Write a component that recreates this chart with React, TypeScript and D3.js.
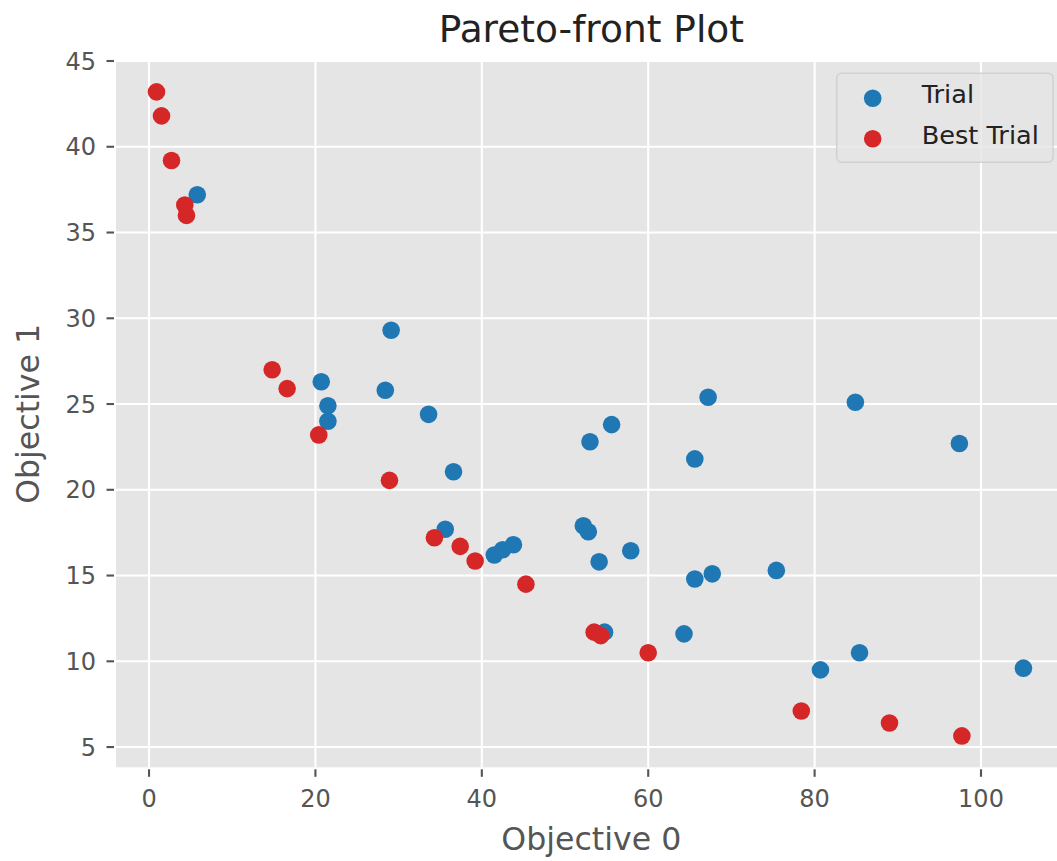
import React from 'react';
import * as d3 from 'd3';

// Trials (blue)
const trialX = [5.8, 20.7, 21.5, 21.5, 29.1, 28.4, 33.6, 36.6, 35.6, 41.5, 42.5, 43.8, 53.0, 55.6, 65.6, 67.2, 52.2, 52.8, 54.1, 57.9, 65.6, 67.7, 54.75, 64.3, 84.9, 97.4, 75.4, 80.7, 85.4, 105.1];
const trialY = [37.2, 26.3, 24.9, 24.0, 29.3, 25.8, 24.4, 21.05, 17.7, 16.2, 16.5, 16.8, 22.8, 23.8, 21.8, 25.4, 17.9, 17.55, 15.8, 16.45, 14.8, 15.1, 11.7, 11.6, 25.1, 22.7, 15.3, 9.5, 10.5, 9.6];

// Best trials (red, Pareto front)
const bestX = [0.9, 1.5, 2.7, 4.3, 4.5, 14.8, 16.6, 20.4, 28.9, 34.3, 37.4, 39.2, 45.3, 53.5, 54.3, 60.0, 78.4, 89.0, 97.7];
const bestY = [43.2, 41.8, 39.2, 36.6, 36.0, 27.0, 25.9, 23.2, 20.55, 17.2, 16.7, 15.85, 14.5, 11.7, 11.5, 10.5, 7.1, 6.4, 5.65];

const xTicks = [0, 20, 40, 60, 80, 100];
const yTicks = [5, 10, 15, 20, 25, 30, 35, 40, 45];

const W = 1057;
const H = 861;
const left = 116;
const right = 1066.7;
const top = 60.5;
const bottom = 767.3;

const FONT = '"DejaVu Sans", sans-serif';
const BLUE = '#1f77b4';
const RED = '#d62728';

export default function App() {
  const x = d3.scaleLinear().domain([-3.97, 110.3]).range([left, right]);
  const y = d3.scaleLinear().domain([3.82, 45.03]).range([bottom, top]);

  const trials = trialX.map((v, i) => [v, trialY[i]]);
  const best = bestX.map((v, i) => [v, bestY[i]]);

  return (
    <svg
      width={W}
      height={H}
      style={{ position: 'absolute', left: 0, top: 0, display: 'block', background: '#fff' }}
      fontFamily={FONT}
    >
      <defs>
        <clipPath id="plot">
          <rect x={left} y={top} width={right - left} height={bottom - top} />
        </clipPath>
      </defs>

      {/* axes background */}
      <rect x={left} y={top} width={right - left} height={bottom - top} fill="#e5e5e5" />

      {/* grid */}
      <g stroke="#fff" strokeWidth={2.1}>
        {xTicks.map(t => (
          <line key={'gx' + t} x1={x(t)} x2={x(t)} y1={top} y2={bottom} />
        ))}
        {yTicks.map(t => (
          <line key={'gy' + t} x1={left} x2={right} y1={y(t)} y2={y(t)} />
        ))}
      </g>

      {/* ticks */}
      <g stroke="#555" strokeWidth={2.1}>
        {xTicks.map(t => (
          <line key={'tx' + t} x1={x(t)} x2={x(t)} y1={bottom + 2} y2={bottom + 9.5} />
        ))}
        {yTicks.map(t => (
          <line key={'ty' + t} x1={left - 9.5} x2={left - 2} y1={y(t)} y2={y(t)} />
        ))}
      </g>

      {/* tick labels */}
      <g fill="#555" fontSize={24}>
        {xTicks.map(t => (
          <text key={'lx' + t} x={x(t)} y={807} textAnchor="middle">
            {t}
          </text>
        ))}
        {yTicks.map(t => (
          <text key={'ly' + t} x={96} y={y(t)} dy="0.36em" textAnchor="end">
            {t}
          </text>
        ))}
      </g>

      {/* points */}
      <g clipPath="url(#plot)">
        {trials.map((d, i) => (
          <circle key={'t' + i} cx={x(d[0])} cy={y(d[1])} r={8.8} fill={BLUE} />
        ))}
        {best.map((d, i) => (
          <circle key={'b' + i} cx={x(d[0])} cy={y(d[1])} r={8.8} fill={RED} />
        ))}
      </g>

      {/* legend */}
      <g>
        <rect
          x={836.7}
          y={73.3}
          width={216.3}
          height={89}
          rx={5}
          fill="#e5e5e5"
          fillOpacity={0.8}
          stroke="#cccccc"
          strokeOpacity={0.8}
          strokeWidth={1.5}
        />
        <circle cx={872.7} cy={98.3} r={8.8} fill={BLUE} />
        <circle cx={872.7} cy={138.7} r={8.8} fill={RED} />
        <text x={921.7} y={103.3} fontSize={25.6} fill="#222">
          Trial
        </text>
        <text x={921.7} y={144.3} fontSize={25.6} fill="#222">
          Best Trial
        </text>
      </g>

      {/* axis labels */}
      <text x={(left + right) / 2} y={850} textAnchor="middle" fontSize={31.6} fill="#555">
        Objective 0
      </text>
      <text
        transform={`translate(39, ${(top + bottom) / 2}) rotate(-90)`}
        textAnchor="middle"
        fontSize={31.6}
        fill="#555"
      >
        Objective 1
      </text>

      {/* title */}
      <text x={(left + right) / 2} y={41.5} textAnchor="middle" fontSize={37.5} fill="#222">
        Pareto-front Plot
      </text>
    </svg>
  );
}
